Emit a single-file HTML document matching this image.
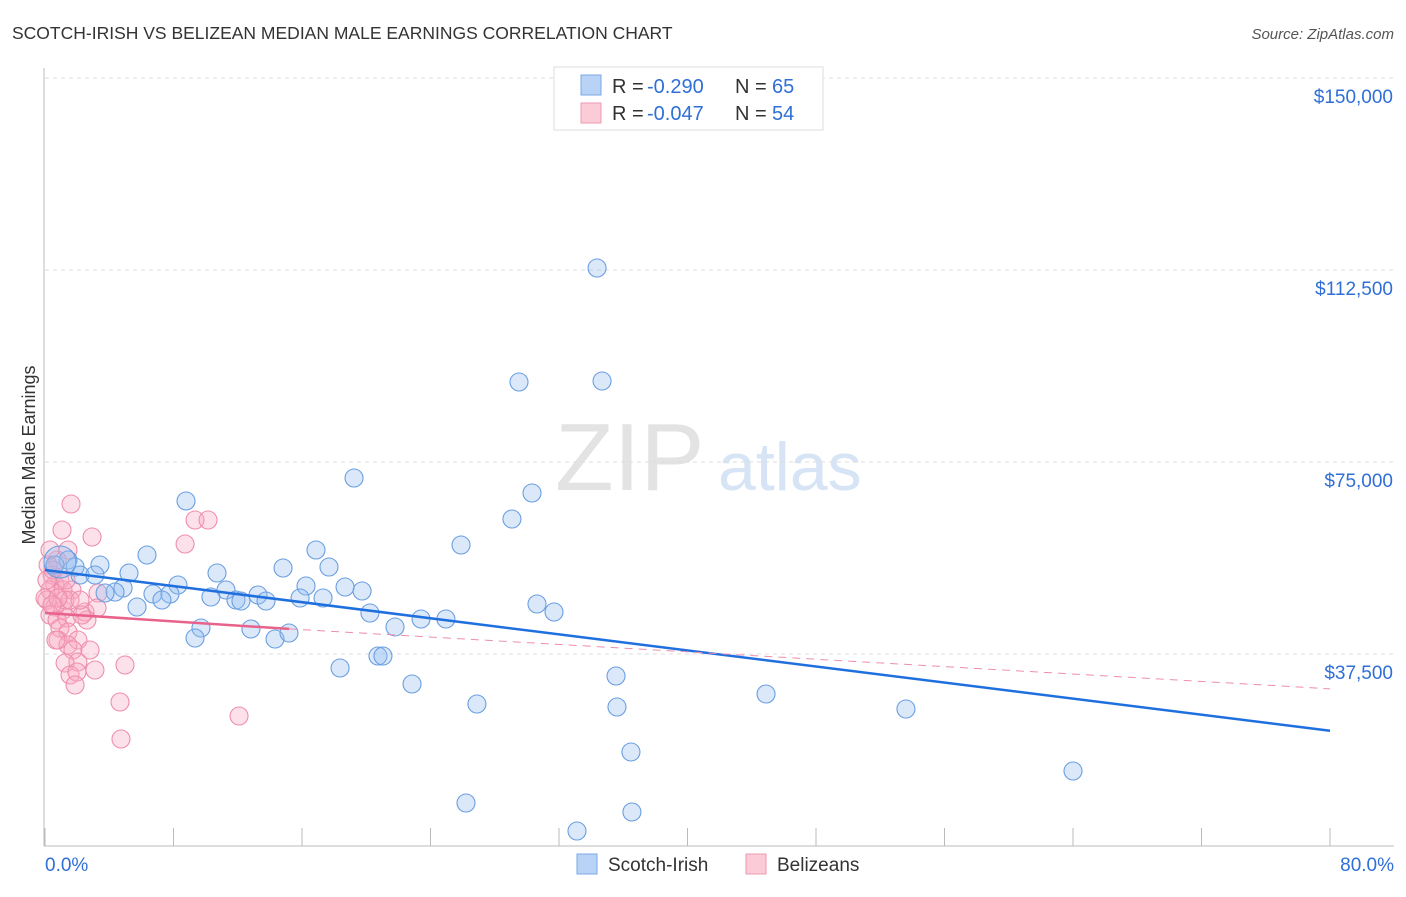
<!DOCTYPE html>
<html><head><meta charset="utf-8"><style>
body{margin:0;background:#fff;font-family:"Liberation Sans",sans-serif}
svg text{font-family:"Liberation Sans",sans-serif}
</style></head><body>
<svg id="c" width="1406" height="892">
<text x="12" y="39" font-size="17.5" fill="#333">SCOTCH-IRISH VS BELIZEAN MEDIAN MALE EARNINGS CORRELATION CHART</text>
<text x="1394" y="39" font-size="15" fill="#555" font-style="italic" text-anchor="end">Source: ZipAtlas.com</text>
<text x="35" y="455" font-size="18" fill="#333" text-anchor="middle" transform="rotate(-90 35 455)">Median Male Earnings</text>
<text x="555" y="490" font-size="96" fill="#e3e3e3" font-family="Liberation Serif">ZIP</text>
<text x="718" y="490" font-size="68" fill="#d6e4f5">atlas</text>
<g id="grid"></g><g id="axes"></g><g id="pts"></g><g id="lines"></g>
<g>
<rect x="554" y="67" width="269" height="63" fill="#fff" stroke="#ddd"/>
<rect x="581" y="75" width="20" height="20" fill="#b8d3f5" stroke="#7aa9e6"/>
<rect x="581" y="103" width="20" height="20" fill="#fccbd8" stroke="#ef9ab2"/>
<text x="612" y="93" font-size="20" fill="#333">R =</text><text x="647" y="93" font-size="20" fill="#2f6fd6">-0.290</text>
<text x="735" y="93" font-size="20" fill="#333">N =</text><text x="772" y="93" font-size="20" fill="#2f6fd6">65</text>
<text x="612" y="120" font-size="20" fill="#333">R =</text><text x="647" y="120" font-size="20" fill="#2f6fd6">-0.047</text>
<text x="735" y="120" font-size="20" fill="#333">N =</text><text x="772" y="120" font-size="20" fill="#2f6fd6">54</text>
</g>
<g>
<rect x="577" y="854" width="20" height="20" fill="#b8d3f5" stroke="#7aa9e6"/>
<text x="608" y="871" font-size="19" fill="#333">Scotch-Irish</text>
<rect x="746" y="854" width="20" height="20" fill="#fccbd8" stroke="#ef9ab2"/>
<text x="777" y="871" font-size="19" fill="#333">Belizeans</text>
</g>
</svg>
<script>
const yTicks=[37500,75000,112500,150000];
const yTickLabels=["$37,500","$75,000","$112,500","$150,000"];
const xTickLabels=["0.0%","80.0%"];
const blueX=[(597),519,602,354,532,186,512,461,316,147,68,55,75,100,80,95,129,217,283,329,306,178,345,362,123,115,105,153,170,162,226,211,236,258,241,266,300,323,137,537,554,370,421,446,395,201,195,251,275,289,340,378,383,412,616,766,477,617,906,631,1073,466,632,577,60].map(p=>+((p-45)/1285*80).toFixed(2));
const blueY=[268,382,381,478,493,501,519,545,550,555,560,565,567,565,575,575,573,573,568,567,586,585,587,591,588,592,593,594,594,600,590,597,600,595,601,601,598,598,607,604,612,613,619,619,627,628,638,629,639,633,668,656,656,684,676,694,704,707,709,752,771,803,812,831,562].map(p=>Math.round((846-p)*37500/192));
const pinkX=[71,62,92,68,57,52,60,55,50,63,72,98,47,55,63,85,97,50,57,67,87,82,60,68,78,58,68,73,78,65,95,70,77,75,125,120,121,239,195,208,185,48,50,45,65,53,56,90,70,66,47,80,58,52].map(p=>+((p-45)/1285*80).toFixed(2));
const pinkY=[504,530,537,550,560,575,580,585,590,590,590,593,600,607,610,612,608,615,620,618,620,615,628,632,640,640,645,650,662,663,670,675,672,685,665,702,739,716,520,520,544,565,550,598,600,570,640,650,600,580,580,600,598,605].map(p=>Math.round((846-p)*37500/192));
const blueTrend=[[0,53900],[80,22500]];
const pinkTrend=[[0,45500],[15.2,42400],[80,30700]];
const X=v=>45+v/80*1285, Y=v=>846-v/37500*192;
const NS="http://www.w3.org/2000/svg";
function mk(t,a,p){const e=document.createElementNS(NS,t);for(const k in a)e.setAttribute(k,a[k]);p.appendChild(e);return e;}
const grid=document.getElementById('grid'),axes=document.getElementById('axes'),pts=document.getElementById('pts'),lines=document.getElementById('lines');
yTicks.forEach((v,i)=>{
 const l=mk('line',{x1:45,x2:1394,y1:Y(v),y2:Y(v),stroke:'#ddd','stroke-dasharray':'4,4'},grid);
 
 
 const t=mk('text',{x:1393,y:Y(v)+25,'font-size':19,fill:'#2f6fd6','text-anchor':'end'},axes);t.textContent=yTickLabels[i];
 
 
});
mk('line',{x1:45,x2:1394,y1:78,y2:78,stroke:'#ddd','stroke-dasharray':'4,4'},grid);
mk('line',{x1:44,x2:44,y1:68,y2:846,stroke:'#bbb'},axes);
mk('line',{x1:44,x2:1394,y1:846,y2:846,stroke:'#bbb'},axes);
for(let i=0;i<=10;i++){mk('line',{x1:X(i*8),x2:X(i*8),y1:828,y2:846,stroke:'#bbb'},axes);}
const t0=mk('text',{x:45,y:871,'font-size':19,fill:'#2f6fd6'},axes);t0.textContent=xTickLabels[0];


const t1=mk('text',{x:1394,y:871,'font-size':19,fill:'#2f6fd6','text-anchor':'end'},axes);t1.textContent=xTickLabels[1];


pinkX.forEach((x,i)=>{const c=mk('circle',{cx:X(x),cy:Y(pinkY[i]),r:9,fill:'rgba(248,170,195,0.35)',stroke:'#ee8eab','stroke-width':1.1},pts);
 
 });
blueX.forEach((x,i)=>{const c=mk('circle',{cx:X(x),cy:Y(blueY[i]),r:i==64?16:9,fill:'rgba(150,190,240,0.35)',stroke:'#6a9fe0','stroke-width':1.1},pts);
 
 });
const bl=mk('line',{x1:X(blueTrend[0][0]),y1:Y(blueTrend[0][1]),x2:X(blueTrend[1][0]),y2:Y(blueTrend[1][1]),stroke:'#1f6fde','stroke-width':2.5},lines);


const pl=mk('line',{x1:X(pinkTrend[0][0]),y1:Y(pinkTrend[0][1]),x2:X(pinkTrend[1][0]),y2:Y(pinkTrend[1][1]),stroke:'#e8628c','stroke-width':2.5},lines);


const pd=mk('line',{x1:X(pinkTrend[1][0]),y1:Y(pinkTrend[1][1]),x2:X(pinkTrend[2][0]),y2:Y(pinkTrend[2][1]),stroke:'#ee8eab','stroke-width':1,'stroke-dasharray':'8,6'},lines);


</script>
</body></html>
